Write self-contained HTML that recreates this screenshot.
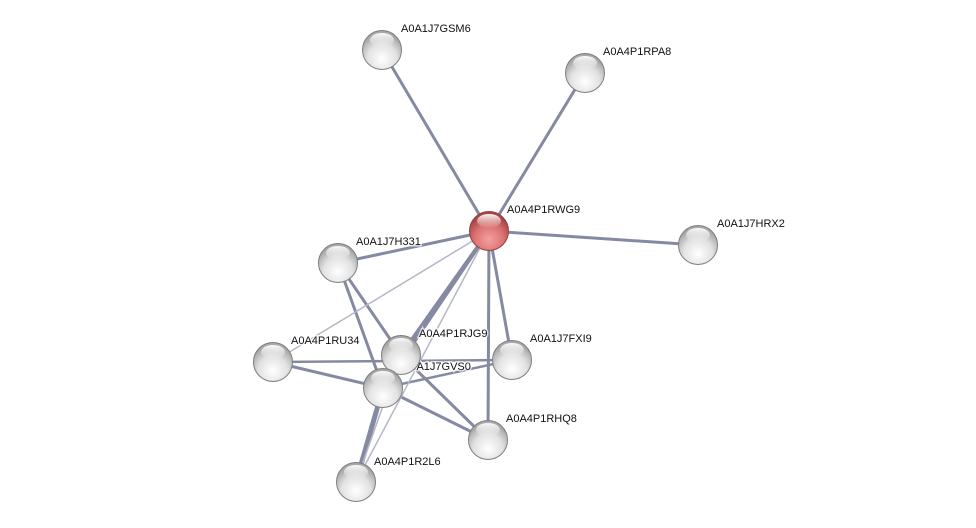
<!DOCTYPE html>
<html><head><meta charset="utf-8"><style>html,body{margin:0;padding:0;background:#fff}svg{display:block}</style></head><body>
<svg width="976" height="528" xmlns="http://www.w3.org/2000/svg" font-family="Liberation Sans, sans-serif" font-size="11">
<defs>
<radialGradient id="g" cx="50%" cy="72%" r="62%"><stop offset="0" stop-color="#ffffff"/><stop offset="0.6" stop-color="#e2e2e2"/><stop offset="1" stop-color="#a8a8a8"/></radialGradient>
<radialGradient id="r" cx="50%" cy="72%" r="62%"><stop offset="0" stop-color="#f3a0a0"/><stop offset="0.6" stop-color="#dc7272"/><stop offset="1" stop-color="#a84646"/></radialGradient>
<linearGradient id="hl" x1="0" y1="0" x2="0" y2="1"><stop offset="0" stop-color="#fff" stop-opacity="0.95"/><stop offset="1" stop-color="#fff" stop-opacity="0"/></linearGradient>
<g id="n"><circle r="19.5" fill="url(#g)" stroke="#7e7e7e" stroke-width="1"/><ellipse cx="0" cy="-10" rx="12" ry="7" fill="url(#hl)"/></g>
<g id="nr"><circle r="19.5" fill="url(#r)" stroke="#934040" stroke-width="1"/><ellipse cx="0" cy="-10" rx="12" ry="7" fill="url(#hl)"/></g>
</defs>
<g stroke="#858aa2" stroke-width="3" fill="none">
<line x1="489" y1="231" x2="382" y2="50"/>
<line x1="489" y1="231" x2="585" y2="73"/>
<line x1="489" y1="231" x2="698" y2="245"/>
<line x1="489" y1="231" x2="338" y2="263"/>
<line x1="489" y1="231" x2="401" y2="355" stroke-width="4"/>
<line x1="489" y1="231" x2="383" y2="388" stroke-width="3.5"/>
<line x1="489" y1="231" x2="512" y2="360"/>
<line x1="489" y1="231" x2="488" y2="440"/>
<line x1="338" y1="263" x2="401" y2="355"/>
<line x1="338" y1="263" x2="383" y2="388"/>
<line x1="273" y1="362" x2="512" y2="360" stroke-width="2.5"/>
<line x1="273" y1="362" x2="383" y2="388"/>
<line x1="383" y1="388" x2="512" y2="360" stroke-width="2.5"/>
<line x1="383" y1="388" x2="488" y2="440"/>
<line x1="401" y1="355" x2="488" y2="440"/>
<line x1="383" y1="388" x2="356" y2="482" stroke-width="5"/>
</g>
<g stroke="#b4b7c6" stroke-width="1.5">
<line x1="489" y1="231" x2="273" y2="362"/>
<line x1="489" y1="231" x2="356" y2="482"/>
<line x1="401" y1="355" x2="356" y2="482"/>
</g>
<g fill="#111" stroke="#fff" stroke-width="3" stroke-opacity="0.7" paint-order="stroke">
<text x="401" y="32">A0A1J7GSM6</text>
<text x="603" y="55">A0A4P1RPA8</text>
<text x="507" y="213">A0A4P1RWG9</text>
<text x="717" y="227">A0A1J7HRX2</text>
<text x="356" y="245">A0A1J7H331</text>
<text x="291" y="344">A0A4P1RU34</text>
<text x="530" y="342">A0A1J7FXI9</text>
<text x="403" y="370">A0A1J7GVS0</text>
<text x="506" y="422">A0A4P1RHQ8</text>
<text x="374" y="465">A0A4P1R2L6</text>
</g>
<use href="#n" x="382" y="50"/>
<use href="#n" x="585" y="73"/>
<use href="#n" x="698" y="245"/>
<use href="#n" x="338" y="263"/>
<use href="#n" x="273" y="362"/>
<use href="#n" x="512" y="360"/>
<use href="#n" x="488" y="440"/>
<use href="#n" x="356" y="482"/>
<use href="#n" x="401" y="355"/>
<use href="#n" x="383" y="388"/>
<use href="#nr" x="489" y="231"/>
<text x="419" y="337" fill="#111" stroke="#fff" stroke-width="3" stroke-opacity="0.7" paint-order="stroke">A0A4P1RJG9</text>
</svg>
</body></html>
